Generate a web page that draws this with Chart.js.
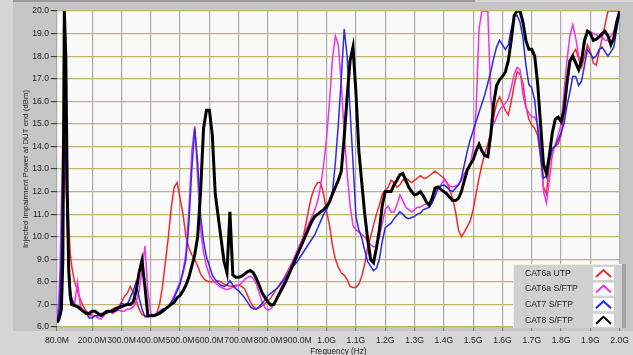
<!DOCTYPE html>
<html>
<head>
<meta charset="utf-8">
<script src="https://cdn.jsdelivr.net/npm/chart.js@4.4.1/dist/chart.umd.min.js"></script>
<style>
html, body { margin: 0; padding: 0; background: #d6d6d6; }
canvas { display: block; }
</style>
</head>
<body>
<canvas id="chart" width="633" height="355"></canvas>
<script>
// frequency in MHz
var freq = [80, 85, 90, 95, 100, 105, 110, 115, 120, 125, 130,
  140, 150, 160, 170, 180, 190, 200, 210, 220, 230,
  240, 250, 260, 270, 280, 290, 300, 310, 320, 330,
  340, 350, 360, 370, 380, 390, 400, 410, 420, 430,
  440, 450, 460, 470, 480, 490, 500, 510, 520, 530,
  540, 550, 560, 570, 580, 590, 600, 610, 620, 630,
  640, 650, 660, 670, 680, 690, 700, 710, 720, 730,
  740, 750, 760, 770, 780, 790, 800, 810, 820, 830,
  840, 850, 860, 870, 880, 890, 900, 910, 920, 930,
  940, 950, 960, 970, 980, 990, 1000, 1010, 1020, 1030,
  1040, 1050, 1060, 1070, 1080, 1090, 1100, 1110, 1120, 1130,
  1140, 1150, 1160, 1170, 1180, 1190, 1200, 1210, 1220, 1230,
  1240, 1250, 1260, 1270, 1280, 1290, 1300, 1310, 1320, 1330,
  1340, 1350, 1360, 1370, 1380, 1390, 1400, 1410, 1420, 1430,
  1440, 1450, 1460, 1470, 1480, 1490, 1500, 1510, 1520, 1530,
  1540, 1550, 1560, 1570, 1580, 1590, 1600, 1610, 1620, 1630,
  1640, 1650, 1660, 1670, 1680, 1690, 1700, 1710, 1720, 1730,
  1740, 1750, 1760, 1770, 1780, 1790, 1800, 1810, 1820, 1830,
  1840, 1850, 1860, 1870, 1880, 1890, 1900, 1910, 1920, 1930,
  1940, 1950, 1960, 1970, 1980, 1990, 2000];

var cat6aUtp = [6.3, 6.5, 7.0, 8.5, 11.0, 12.6, 12.9, 12.0, 10.5, 9.3, 8.7,
  8.0, 7.6, 7.2, 6.9, 6.7, 6.6, 6.5, 6.5, 6.5, 6.55,
  6.6, 6.7, 6.7, 6.8, 6.85, 6.9, 7.1, 7.35, 7.5, 7.8,
  7.55, 7.2, 6.8, 6.55, 6.5, 6.5, 6.5, 6.5, 6.6, 7.0,
  7.8, 8.9, 10.0, 11.3, 12.2, 12.4, 11.7, 11.0, 10.0, 9.5,
  9.2, 9.0, 8.7, 8.35, 8.15, 8.05, 8.0, 8.0, 8.0, 8.05,
  8.0, 7.9, 7.85, 7.8, 7.8, 7.85, 7.85, 7.8, 7.7, 7.4,
  7.1, 6.9, 6.8, 6.85, 6.95, 7.05, 7.15, 7.3, 7.5, 7.7,
  7.9, 8.05, 8.3, 8.55, 8.8, 9.0, 9.25, 9.5, 10.0, 10.6,
  11.3, 11.85, 12.2, 12.4, 12.4, 11.85, 11.1, 10.5, 9.6, 9.0,
  8.65, 8.4, 8.3, 8.1, 7.8, 7.75, 7.75, 7.9, 8.25, 8.8,
  9.5, 10.0, 10.5, 11.0, 11.4, 11.9, 12.05, 12.2, 12.5, 12.4,
  12.2, 12.3, 12.5, 12.6, 12.5, 12.4, 12.5, 12.6, 12.7, 12.6,
  12.6, 12.7, 12.8, 12.9, 12.8, 12.7, 12.6, 12.4, 12.1, 11.7,
  11.1, 10.3, 10.0, 10.2, 10.45, 10.7, 11.2, 11.9, 12.6, 13.2,
  13.7, 14.1, 14.6, 15.3, 15.9, 16.2, 15.9, 15.6, 15.4, 16.0,
  16.7, 17.3, 17.2, 16.8, 15.8, 15.2, 14.95, 14.8, 14.5, 13.5,
  12.2, 11.9, 13.2, 13.9, 14.0, 14.1, 14.5, 15.4, 16.6, 17.6,
  18.1, 18.3, 17.9, 17.5, 18.0, 18.5, 18.2, 17.7, 17.6, 18.2,
  18.8, 19.4, 20.0, 20.0, 20.0, 20.0, 20.0];

var cat6aSftp = [6.4, 7.0, 8.5, 11.5, 14.3, 14.8, 13.0, 10.5, 8.6, 7.7, 7.3,
  7.0, 8.0, 6.9, 6.7, 6.6, 6.5, 6.5, 6.5, 6.4, 6.35,
  6.5, 6.7, 6.7, 6.6, 6.7, 6.75, 6.7, 6.7, 6.8, 6.8,
  6.9, 7.1, 7.6, 8.5, 9.6, 7.6, 6.6, 6.5, 6.5, 6.6,
  6.7, 6.8, 6.9, 7.1, 7.4, 7.7, 8.0, 8.5, 9.3, 11.2,
  13.8, 14.9, 12.6, 10.3, 9.3, 8.7, 8.3, 8.1, 7.95, 7.85,
  7.75, 7.7, 7.65, 7.7, 7.75, 7.8, 7.85, 7.95, 8.1, 8.2,
  8.25, 8.15, 7.9, 7.5, 7.1, 6.85, 6.75, 6.8, 7.0, 7.3,
  7.6, 7.9, 8.2, 8.5, 8.8, 9.1, 9.4, 9.7, 10.0, 10.3,
  10.6, 10.9, 11.2, 11.6, 12.3, 13.2, 14.4, 16.0, 17.9, 18.9,
  18.5, 16.8, 14.6, 12.8, 11.4, 10.5, 10.3, 10.2, 10.1, 10.0,
  9.8, 9.65, 9.55, 9.55, 10.0, 10.6, 11.2, 11.35, 11.1, 11.1,
  11.4, 11.85, 11.6, 11.3, 11.2, 11.1, 11.2, 11.3, 11.3, 11.4,
  11.45, 11.5, 11.55, 11.8, 12.1, 12.3, 12.5, 12.4, 12.25, 12.2,
  12.25, 12.3, 12.5, 12.8, 13.0, 13.2, 13.9, 15.6, 19.2, 20.0,
  20.0, 20.0, 16.2, 15.0, 15.3, 15.6, 15.8, 15.9, 16.1, 16.6,
  17.2, 17.5, 17.4, 16.3, 15.7, 15.5, 15.3, 15.3, 15.0, 14.0,
  12.0, 11.5, 12.5, 13.6, 14.1, 14.5, 15.0, 16.4, 17.8, 18.9,
  19.4, 18.8, 18.0, 17.8, 18.5, 19.1, 19.1, 19.0, 18.95, 18.9,
  18.85, 18.7, 18.7, 18.9, 19.1, 19.6, 20.0];

var cat7Sftp = [6.3, 6.6, 7.4, 9.5, 12.8, 14.2, 13.2, 10.8, 8.8, 7.7, 7.2,
  7.0, 6.9, 6.8, 6.7, 6.6, 6.4, 6.4, 6.5, 6.5, 6.6,
  6.6, 6.6, 6.7, 6.7, 6.7, 6.8, 7.05, 7.0, 7.0, 7.3,
  7.6, 8.0, 7.3, 6.8, 6.45, 6.45, 6.5, 6.5, 6.55, 6.7,
  6.8, 6.8, 6.9, 7.1, 7.3, 7.6, 7.9, 8.4, 9.0, 10.6,
  13.0, 14.8, 13.3, 10.9, 9.8, 9.1, 8.7, 8.3, 8.1, 7.95,
  7.85, 7.8, 7.85, 8.05, 7.85, 7.7, 7.6, 7.45, 7.3, 7.1,
  6.9, 6.8, 6.8, 6.9, 7.05, 7.2, 7.4, 7.5, 7.6, 7.7,
  7.85, 8.05, 8.2, 8.4, 8.6, 8.75, 8.9, 9.1, 9.3, 9.5,
  9.7, 9.9, 10.1, 10.4, 10.7, 11.0, 11.2, 11.5, 12.0, 13.3,
  15.0, 17.0, 19.2, 18.0, 15.6, 13.3, 10.9, 10.3, 9.95, 9.4,
  8.9, 8.7, 8.5, 8.6, 9.0, 9.8, 10.4, 10.5, 10.6, 10.8,
  10.95, 11.1, 11.0, 10.85, 10.8, 10.85, 10.9, 11.0, 11.05, 11.2,
  11.25, 11.3, 11.5, 11.8, 12.2, 12.25, 12.3, 12.2, 12.05, 12.0,
  12.15, 12.3, 12.6, 13.2, 13.8, 14.3, 14.7, 15.1, 15.5, 15.9,
  16.3, 16.8, 17.3, 17.9, 18.4, 18.7, 18.5, 18.3, 18.5, 19.2,
  19.75, 19.8, 19.5, 18.8, 17.6, 16.75, 16.6, 16.05, 14.8, 13.6,
  12.6, 12.7, 13.4, 13.9, 14.0, 14.3, 14.6, 15.0, 15.8, 16.4,
  17.1, 17.1, 16.7, 16.9, 17.6, 18.3, 18.1, 17.9, 18.0, 18.3,
  18.4, 18.2, 18.0, 18.2, 18.4, 19.2, 19.9];

var cat8Sftp = [6.2, 6.3, 6.5, 6.8, 9.0, 20.0, 18.0, 12.0, 8.5, 7.4, 7.0,
  6.95, 6.9, 6.8, 6.7, 6.6, 6.6, 6.7, 6.7, 6.6, 6.5,
  6.6, 6.7, 6.7, 6.7, 6.8, 6.85, 6.9, 6.95, 7.0, 7.0,
  7.1, 7.6, 8.4, 8.95, 7.8, 6.5, 6.5, 6.5, 6.55, 6.6,
  6.7, 6.8, 6.9, 7.0, 7.1, 7.3, 7.4, 7.6, 7.85, 8.2,
  8.7, 9.2, 10.0, 12.0, 14.8, 15.6, 15.6, 14.5, 11.9, 10.9,
  9.9, 8.9, 8.4, 11.1, 8.3, 8.2, 8.2, 8.25, 8.35, 8.45,
  8.5, 8.4, 8.15, 7.85, 7.5, 7.3, 7.1, 6.97, 7.0, 7.25,
  7.5, 7.75, 8.0, 8.3, 8.6, 8.9, 9.2, 9.5, 9.8, 10.1,
  10.4, 10.7, 10.9, 11.0, 11.1, 11.2, 11.35, 11.55, 11.9, 12.2,
  12.5, 12.9, 14.4, 16.2, 17.8, 18.4, 16.4, 13.8, 12.4, 11.0,
  9.9, 9.0, 8.85, 9.5, 10.3, 11.4, 12.0, 12.0, 12.0, 12.3,
  12.5, 12.75, 12.8, 12.5, 12.2, 12.0, 11.85, 11.9, 12.0, 11.8,
  11.55, 11.4, 11.7, 12.15, 12.2, 12.1, 12.0, 11.9, 11.75, 11.6,
  11.6, 11.7, 12.0, 12.5, 12.95, 13.2, 13.4, 13.8, 14.1, 13.8,
  13.6, 13.55, 14.5, 15.9, 16.7, 16.95, 17.1, 17.3, 17.8, 18.7,
  19.8, 20.0, 20.0, 19.5, 18.7, 18.3, 18.3, 18.0, 16.8, 15.0,
  13.2, 12.8, 13.6, 14.6, 15.2, 15.3, 15.1, 15.6, 16.8, 17.8,
  18.0, 17.7, 17.4, 17.8, 18.7, 19.1, 19.0, 18.7, 18.75, 18.85,
  19.0, 19.1, 18.9, 18.5, 18.8, 19.5, 20.0];

var seriesNames = ["CAT6a UTP", "CAT6a S/FTP", "CAT7 S/FTP", "CAT8 S/FTP"];
var seriesColors = ["#f52828", "#f030f0", "#2828f0", "#000000"];

var xTickValues = [80, 200, 300, 400, 500, 600, 700, 800, 900, 1000,
  1100, 1200, 1300, 1400, 1500, 1600, 1700, 1800, 1900, 2000];
var xTickLabels = ["80.0M", "200.0M", "300.0M", "400.0M", "500.0M", "600.0M", "700.0M", "800.0M", "900.0M", "1.0G",
  "1.1G", "1.2G", "1.3G", "1.4G", "1.5G", "1.6G", "1.7G", "1.8G", "1.9G", "2.0G"];

var FONT = '"Liberation Sans", Arial, sans-serif';
var TICK_SIZE = 8.6;

function toPoints(vals) {
  var out = [];
  for (var i = 0; i < freq.length; i++) out.push({x: freq[i], y: vals[i]});
  return out;
}

// gray panel behind the plot
var panelBg = {
  id: 'panelBg',
  beforeDraw: function(chart) {
    var c = chart.ctx, a = chart.chartArea;
    c.save();
    c.fillStyle = '#d6d6d6';
    c.fillRect(0, 0, chart.width, chart.height);
    c.fillStyle = '#c6c6c6';
    c.fillRect(13, 2, chart.width - 13, a.bottom + 2);
    c.fillStyle = '#9a9a9a';
    c.fillRect(13, 0, 462, 2);
    c.fillStyle = '#fafafa';
    c.fillRect(a.left, a.top, a.right - a.left, a.bottom - a.top);
    c.restore();
  }
};

// legend box inside the plot, bottom right
var boxLegend = {
  id: 'boxLegend',
  afterDraw: function(chart) {
    var c = chart.ctx;
    var x0 = 513, y0 = 264, w = 113, h = 64;
    c.save();
    c.fillStyle = '#d0d0d0';
    c.fillRect(x0, y0, w, h);
    c.fillStyle = '#ededed';
    c.fillRect(x0, y0, w, 1);
    c.fillRect(x0, y0, 1, h);
    c.fillStyle = '#a4a4a4';
    c.fillRect(x0 + w - 4, y0, 4, h);
    c.font = '8.6px ' + FONT;
    c.textBaseline = 'middle';
    chart.data.datasets.forEach(function(ds, i) {
      var cy = y0 + 9.5 + i * 15.6;
      c.fillStyle = '#1e1e1e';
      c.fillText(ds.label, 525, cy);
      c.fillStyle = '#ffffff';
      c.fillRect(593, cy - 6.5, 21, 13);
      c.strokeStyle = ds.borderColor;
      c.lineWidth = 2;
      c.beginPath();
      c.moveTo(596, cy + 3.5);
      c.lineTo(603.5, cy - 3.5);
      c.lineTo(611, cy + 3.5);
      c.stroke();
    });
    c.restore();
  }
};

var allSeries = [cat6aUtp, cat6aSftp, cat7Sftp, cat8Sftp];
var datasets = [];
for (var k = 0; k < allSeries.length; k++) {
  datasets.push({
    label: seriesNames[k],
    data: toPoints(allSeries[k]),
    borderColor: seriesColors[k],
    borderWidth: k == 3 ? 3 : 1.5,
    pointRadius: 0,
    tension: 0,
    fill: false,
    order: 4 - k
  });
}

var ctx = document.getElementById("chart");
var myChart = new Chart(ctx, {
  type: 'line',
  data: { datasets: datasets },
  plugins: [panelBg, boxLegend],
  options: {
    responsive: false,
    animation: false,
    devicePixelRatio: 1,
    layout: { padding: { left: 0, top: 11, right: 9, bottom: 0 } },
    plugins: {
      legend: { display: false },
      tooltip: { enabled: false }
    },
    scales: {
      x: {
        type: 'linear',
        min: 80,
        max: 2000,
        afterBuildTicks: function(s) {
          s.ticks = xTickValues.map(function(v) { return {value: v}; });
        },
        afterFit: function(s) { s.height = 28; },
        ticks: {
          autoSkip: false,
          maxRotation: 0,
          minRotation: 0,
          padding: 4,
          color: '#1e1e1e',
          font: { family: FONT, size: TICK_SIZE },
          callback: function(v, i) { return xTickLabels[i]; }
        },
        grid: { color: '#aaaaaa', lineWidth: 1.2, tickLength: 4, tickColor: '#808080' },
        border: { display: false },
        title: {
          display: true,
          text: 'Frequency (Hz)',
          color: '#1e1e1e',
          font: { family: FONT, size: 8.2 },
          padding: { top: 0, bottom: -2 }
        }
      },
      y: {
        min: 6,
        max: 20,
        afterFit: function(s) { s.width = 57; },
        ticks: {
          stepSize: 1,
          padding: 2,
          color: '#1e1e1e',
          font: { family: FONT, size: TICK_SIZE },
          callback: function(v) { return v.toFixed(1); }
        },
        grid: { color: '#beb66c', lineWidth: 1.2, tickLength: 6, tickColor: '#404040' },
        border: { display: false },
        title: {
          display: true,
          text: 'Injected Impairment Power at DUT end (dBm)',
          color: '#1e1e1e',
          font: { family: FONT, size: 7.8 },
          padding: { top: 21, bottom: 0 }
        }
      }
    }
  }
});
</script>
</body>
</html>
